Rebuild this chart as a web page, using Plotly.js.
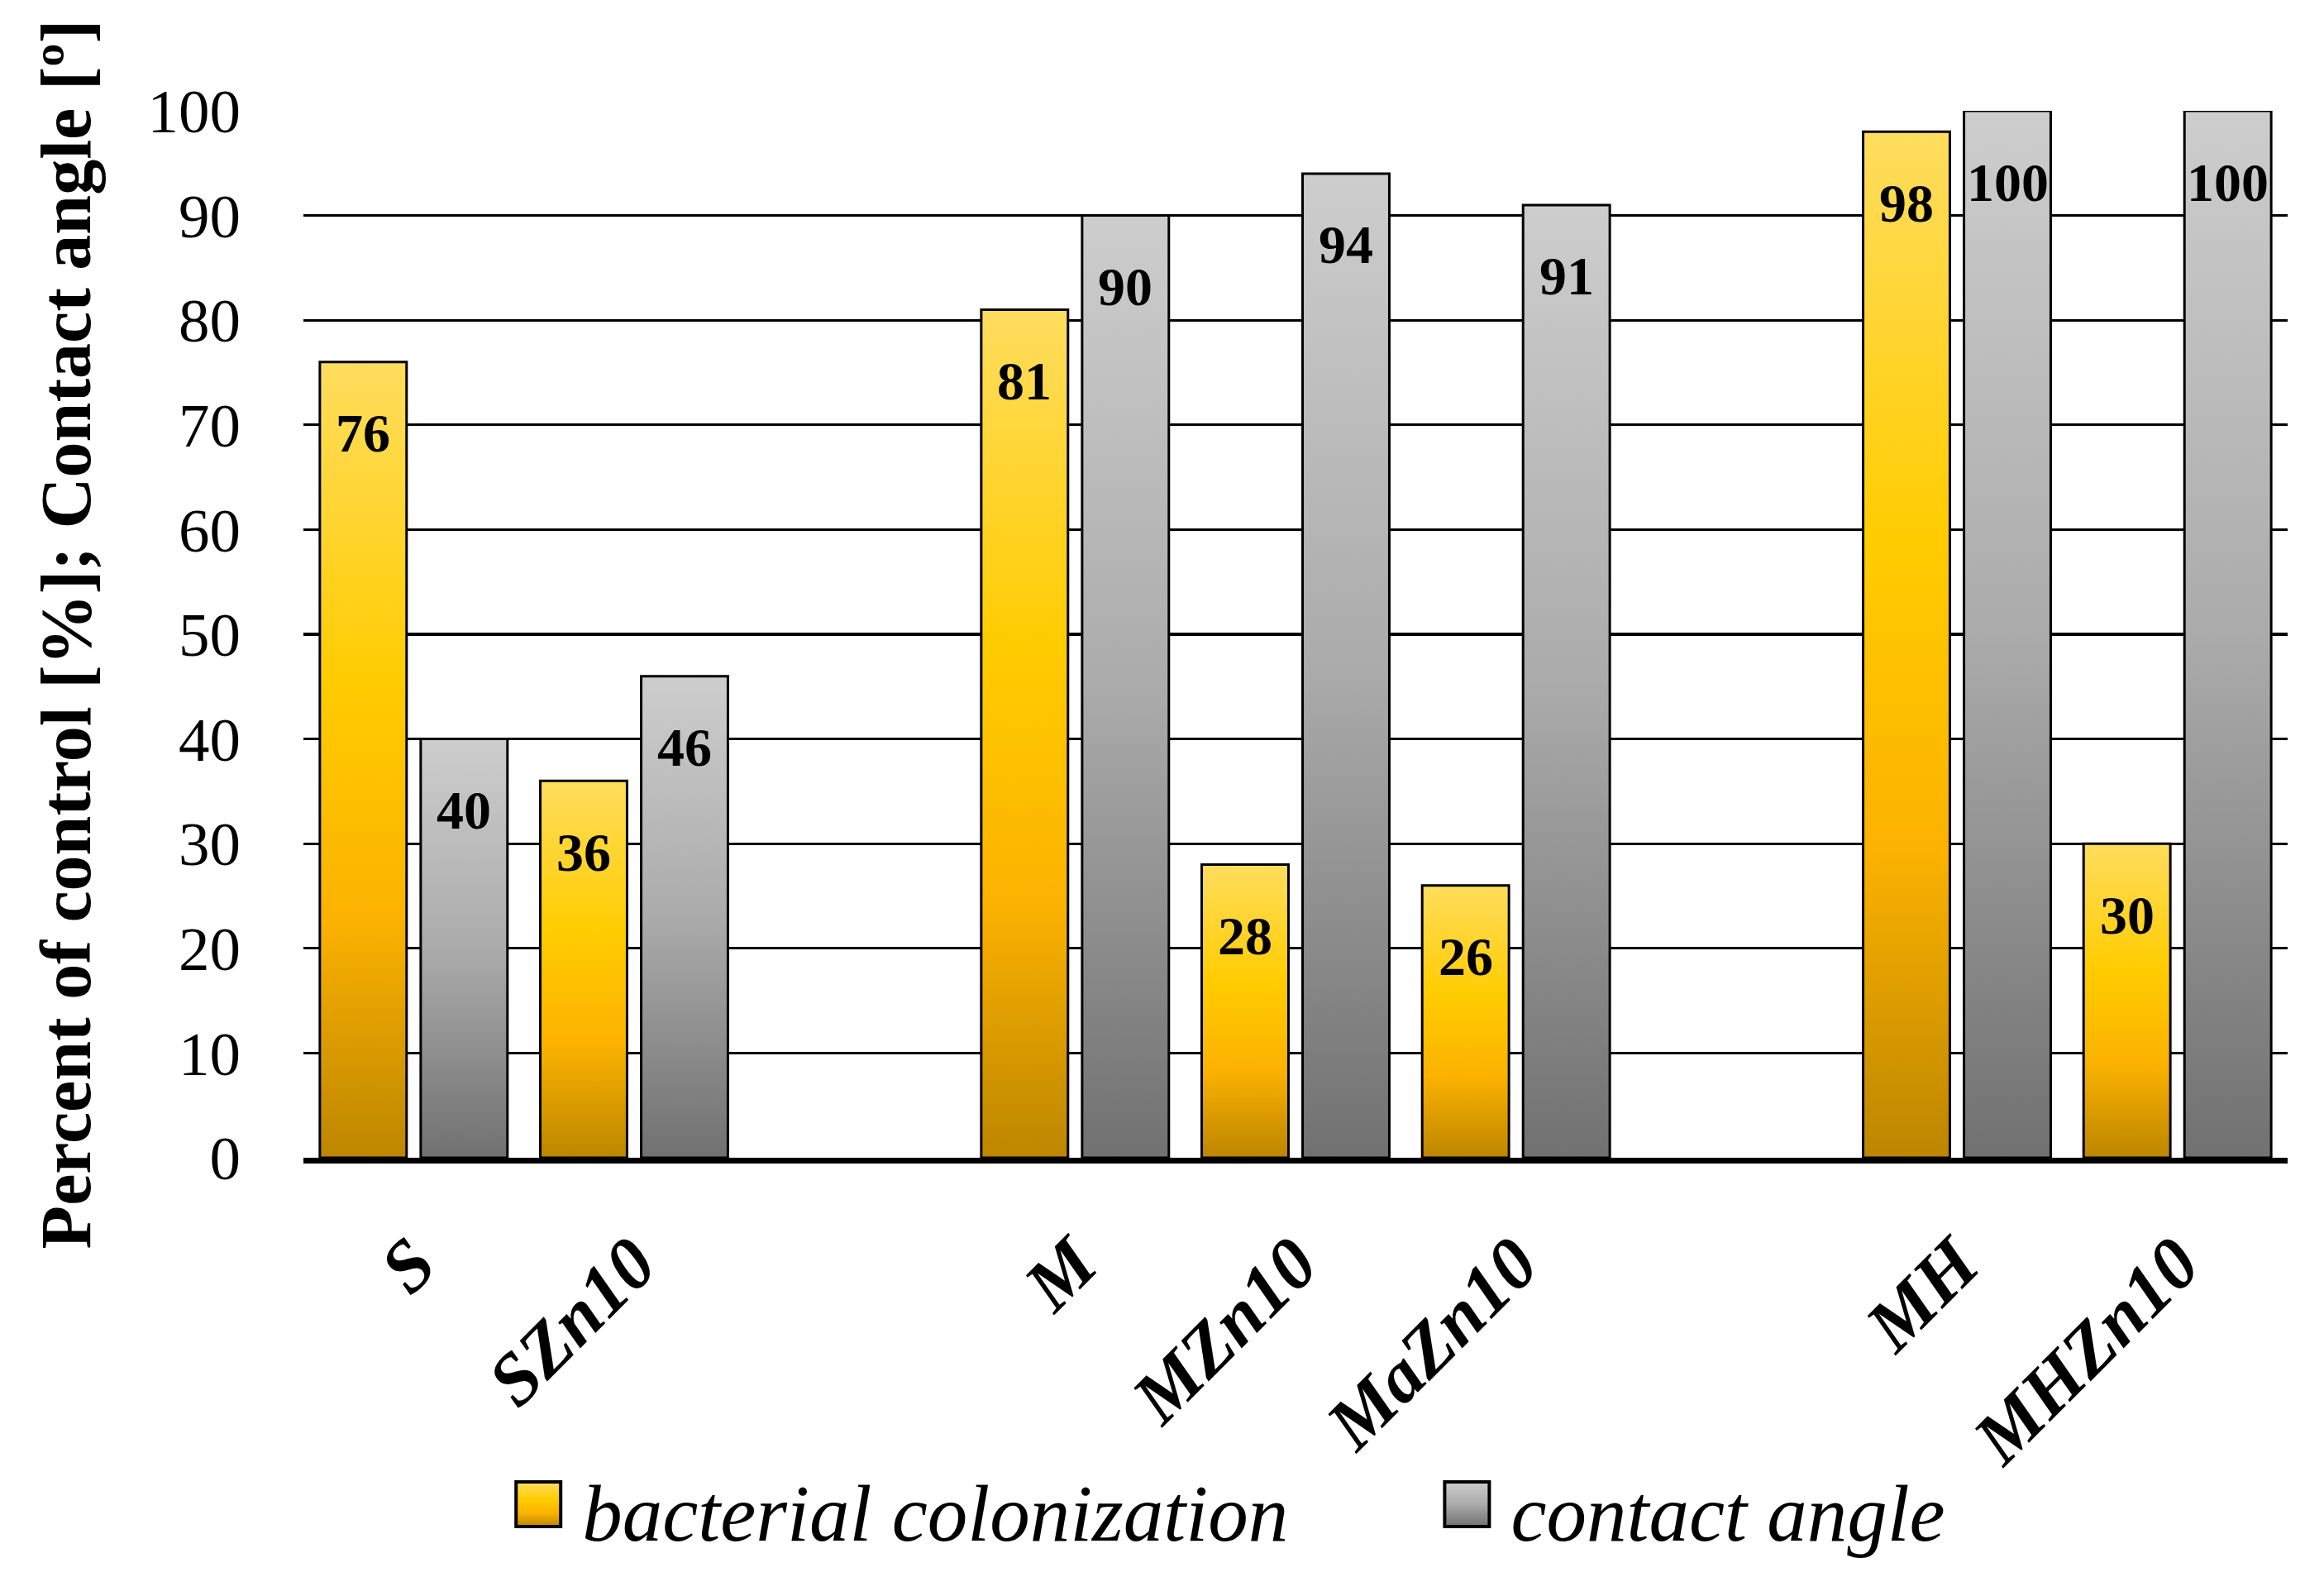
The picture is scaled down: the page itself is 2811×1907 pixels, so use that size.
<!DOCTYPE html>
<html>
<head>
<meta charset="utf-8">
<script src="https://cdn.plot.ly/plotly-3.0.1.min.js"></script>
<style>html,body{margin:0;padding:0;background:#fff;}</style>
</head>
<body>
<div id="chart" style="width:2811px;height:1907px;"></div>
<script>
// ---- data ----
const categories = ['S', 'SZn10', ' ', 'M', 'MZn10', 'MaZn10', '  ', 'MH', 'MHZn10'];
const tickLabels = ['S', 'SZn10', '', 'M', 'MZn10', 'MaZn10', '', 'MH', 'MHZn10'];
const bacterialColonization = [76, 36, null, 81, 28, 26, null, 98, 30];
const contactAngle = [40, 46, null, 90, 94, 91, null, 100, 100];
const seriesNames = ['bacterial colonization', 'contact angle'];
const yTicks = [0, 10, 20, 30, 40, 50, 60, 70, 80, 90, 100];

// ---- style ----
const FONT = 'Liberation Serif, Times New Roman, serif';
const W = 2811, H = 1907;
const M = {l: 367, r: 44, t: 134, b: 498};
const BARGAP = 0.085, BARGROUPGAP = 0.14;

const traces = [
  {type: 'bar', name: seriesNames[0], x: categories, y: bacterialColonization,
   marker: {color: '#FFCC00', line: {color: '#000', width: 3}}, legend: 'legend', hoverinfo: 'none'},
  {type: 'bar', name: seriesNames[1], x: categories, y: contactAngle,
   marker: {color: '#AAAAAA', line: {color: '#000', width: 3}}, legend: 'legend2', hoverinfo: 'none'}
];

// value labels, placed with the axis scales + a pixel offset within the group
const plotW = W - M.l - M.r;
const slotPx = plotW / categories.length;
const groupPx = slotPx * (1 - BARGAP);
const annotations = [];
[bacterialColonization, contactAngle].forEach((vals, si) => {
  vals.forEach((v, i) => {
    if (v === null) return;
    annotations.push({
      x: categories[i], y: v, xref: 'x', yref: 'y',
      text: String(v), showarrow: false,
      xanchor: 'center', yanchor: 'middle',
      xshift: (si === 0 ? -1 : 1) * groupPx / 4,
      yshift: -86,
      font: {family: FONT, size: 66, color: '#000', weight: 'bold'}
    });
  });
});

const legendFont = {family: FONT, size: 97, color: '#000', style: 'italic'};
const layout = {
  width: W, height: H,
  margin: M,
  paper_bgcolor: '#fff', plot_bgcolor: '#fff',
  bargap: BARGAP, bargroupgap: BARGROUPGAP, barmode: 'group',
  showlegend: true,
  legend: {orientation: 'h', x: 0.103, xanchor: 'left', y: -0.336, yanchor: 'middle',
           font: legendFont, bgcolor: 'rgba(0,0,0,0)', itemwidth: 80},
  legend2: {orientation: 'h', x: 0.571, xanchor: 'left', y: -0.336, yanchor: 'middle',
            font: legendFont, bgcolor: 'rgba(0,0,0,0)', itemwidth: 80},
  xaxis: {
    type: 'category', categoryorder: 'array', categoryarray: categories,
    tickvals: categories, ticktext: tickLabels,
    range: [-0.5, categories.length - 0.5],
    showline: true, linecolor: '#000', linewidth: 7,
    ticks: '', tickangle: -45, ticklabelstandoff: 33,
    tickfont: {family: FONT, size: 89, color: '#000', weight: 'bold', style: 'italic'},
    showgrid: false, zeroline: false, automargin: false, fixedrange: true
  },
  yaxis: {
    range: [0, 100], tickvals: yTicks, ticktext: yTicks.map(String),
    showgrid: true, gridcolor: '#000', gridwidth: 3.3,
    zeroline: false, showline: false, ticks: '', ticklabelstandoff: 75,
    tickfont: {family: FONT, size: 75, color: '#000'},
    title: {text: 'Percent of control [%]; Contact angle [º]', standoff: 40,
            font: {family: FONT, size: 86, color: '#000', weight: 'bold'}},
    automargin: false, fixedrange: true
  },
  annotations: annotations
};

const NS = 'http://www.w3.org/2000/svg';
const grads = {
  gradY: [[0, '#FFDD5E'], [0.4, '#FFCC00'], [0.7, '#FBB200'], [1, '#BD8600']],
  gradG: [[0, '#CDCDCD'], [0.5, '#ABABAB'], [1, '#717171']]
};
const ids = ['gradY', 'gradG'];

function ensureDefs(gd) {
  if (document.getElementById('gradY')) return;
  const svg = gd.querySelector('.main-svg');
  const defs = document.createElementNS(NS, 'defs');
  Object.keys(grads).forEach(id => {
    const lg = document.createElementNS(NS, 'linearGradient');
    lg.setAttribute('id', id);
    lg.setAttribute('x1', '0'); lg.setAttribute('y1', '0');
    lg.setAttribute('x2', '0'); lg.setAttribute('y2', '1');
    grads[id].forEach(([o, c]) => {
      const s = document.createElementNS(NS, 'stop');
      s.setAttribute('offset', o); s.setAttribute('stop-color', c);
      lg.appendChild(s);
    });
    defs.appendChild(lg);
  });
  svg.insertBefore(defs, svg.firstChild);
}

function decorate(gd) {
  try {
    ensureDefs(gd);
    gd.querySelectorAll('.barlayer .trace').forEach((t, i) => {
      t.querySelectorAll('.point path').forEach(p => { p.style.fill = 'url(#' + ids[i % 2] + ')'; });
    });
    gd.querySelectorAll('.scrollbox').forEach(sb => sb.removeAttribute('clip-path'));
    // legend text class names follow the legend id (legendtext, legend2text)
    gd.querySelectorAll('.legendtext, .legend2text').forEach(txt => {
      const item = txt.closest('g.traces') || txt.parentNode;
      let idx = -1;
      try { idx = item.__data__[0].trace.index; } catch (e) {}
      if (idx < 0 || idx > 1) idx = seriesNames.indexOf(txt.textContent.replace(/\s+/g, ' ').trim());
      if (idx < 0) return;
      item.querySelectorAll('path').forEach(p => {
        if (!p.hasAttribute('data-orig-tf')) p.setAttribute('data-orig-tf', p.getAttribute('transform') || '');
        const orig = p.getAttribute('data-orig-tf');
        p.setAttribute('transform', orig);
        p.setAttribute('d', 'M27,27H-27V-27H27Z');
        p.style.fill = 'url(#' + ids[idx] + ')';
        p.style.fillOpacity = '1';
        p.style.stroke = '#000';
        p.style.strokeWidth = '4px';
        p.style.strokeOpacity = '1';
        const tb = txt.getBoundingClientRect();
        const pb = p.getBoundingClientRect();
        const dx = (tb.left - 26) - pb.right;
        p.setAttribute('transform', orig + ' translate(' + dx + ',-6)');
      });
    });
  } catch (e) { /* keep the plain Plotly rendering if anything fails */ }
}

Plotly.newPlot('chart', traces, layout, {displayModeBar: false, staticPlot: true}).then(gd => {
  decorate(gd);
  gd.on('plotly_afterplot', () => decorate(gd));
  [50, 600].forEach(t => setTimeout(() => decorate(gd), t));
});
</script>
</body>
</html>
